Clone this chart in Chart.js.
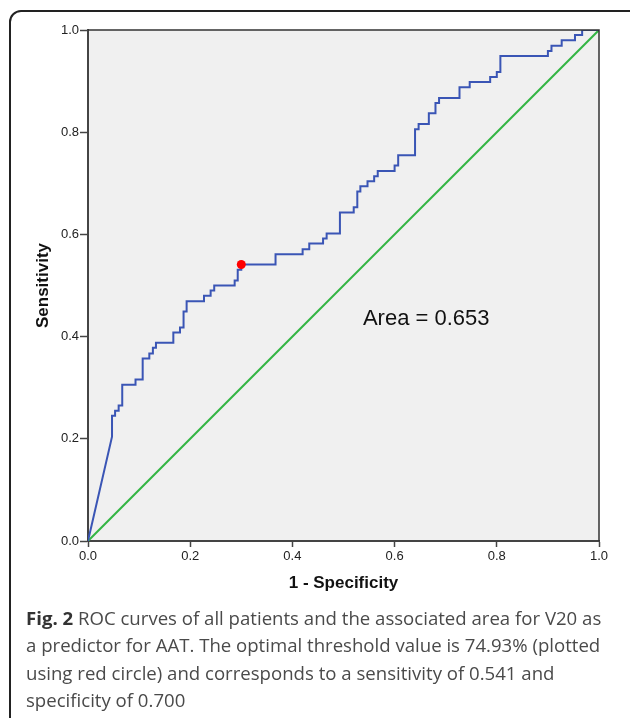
<!DOCTYPE html>
<html>
<head>
<meta charset="utf-8">
<script src="https://cdn.jsdelivr.net/npm/chart.js@4"></script>
<style>
  html, body { margin:0; padding:0; background:#fff; }
  body { width:630px; height:718px; position:relative; overflow:hidden; }
  #frame { position:absolute; left:9px; top:10px; width:660px; height:720px; border:2px solid #222; border-radius:12px; box-sizing:border-box; }
  #c { position:absolute; left:0; top:0; }
  #caption { position:absolute; left:26px; top:604px; width:600px; font-family:"Open Sans", sans-serif; font-size:18.6px; line-height:27.3px; color:#4a4a4a; white-space:nowrap; }
  #caption b { color:#333; font-weight:700; }
</style>
</head>
<body>
<div id="frame"></div>
<canvas id="c" width="630" height="718"></canvas>
<div id="caption"><b>Fig. 2</b> ROC curves of all patients and the associated area for V20 as<br>a predictor for AAT. The optimal threshold value is 74.93% (plotted<br>using red circle) and corresponds to a sensitivity of 0.541 and<br>specificity of 0.700</div>
<script>
// ROC curve vertices (1 - specificity, sensitivity)
const rocX = [0,0.047,0.047,0.053,0.053,0.060,0.060,0.067,0.067,0.093,0.093,0.107,0.107,0.120,0.120,0.127,0.127,0.133,0.133,0.167,0.167,0.180,0.180,0.187,0.187,0.193,0.193,0.227,0.227,0.240,0.240,0.247,0.247,0.287,0.287,0.293,0.293,0.300,0.300,0.367,0.367,0.420,0.420,0.433,0.433,0.460,0.460,0.467,0.467,0.493,0.493,0.520,0.520,0.527,0.527,0.533,0.533,0.547,0.547,0.560,0.560,0.567,0.567,0.600,0.600,0.607,0.607,0.640,0.640,0.647,0.647,0.667,0.667,0.680,0.680,0.687,0.687,0.727,0.727,0.747,0.747,0.787,0.787,0.800,0.800,0.807,0.807,0.900,0.900,0.907,0.907,0.927,0.927,0.953,0.953,0.967,0.967,1.000];
const rocY = [0,0.204,0.245,0.245,0.255,0.255,0.265,0.265,0.306,0.306,0.316,0.316,0.357,0.357,0.367,0.367,0.378,0.378,0.388,0.388,0.408,0.408,0.418,0.418,0.449,0.449,0.469,0.469,0.480,0.480,0.490,0.490,0.500,0.500,0.510,0.510,0.531,0.531,0.541,0.541,0.561,0.561,0.571,0.571,0.582,0.582,0.592,0.592,0.602,0.602,0.643,0.643,0.653,0.653,0.684,0.684,0.694,0.694,0.704,0.704,0.714,0.714,0.724,0.724,0.735,0.735,0.755,0.755,0.806,0.806,0.816,0.816,0.837,0.837,0.857,0.857,0.867,0.867,0.888,0.888,0.898,0.898,0.908,0.908,0.918,0.918,0.949,0.949,0.959,0.959,0.969,0.969,0.980,0.980,0.990,0.990,1.000,1.000];
// reference (chance) line
const refX = [0, 1];
const refY = [0, 1];
// optimal threshold point
const optX = [0.300];
const optY = [0.541];
// axis ticks
const tickValues = [0, 0.2, 0.4, 0.6, 0.8, 1.0];
const xTitle = '1 - Specificity';
const yTitle = 'Sensitivity';
const areaText = 'Area = 0.653';
const areaAt = [0.538, 0.434];

const pts = (xs, ys) => xs.map((x, i) => ({x: x, y: ys[i]}));

const plotDeco = {
  id: 'plotDeco',
  beforeDraw(chart) {
    const a = chart.chartArea, ctx = chart.ctx;
    ctx.save();
    ctx.fillStyle = '#f0f0f0';
    ctx.fillRect(a.left, a.top, a.right - a.left, a.bottom - a.top);
    ctx.restore();
  },
  afterDraw(chart) {
    const a = chart.chartArea, ctx = chart.ctx;
    ctx.save();
    ctx.strokeStyle = '#333';
    ctx.lineWidth = 1.5;
    ctx.beginPath();
    ctx.moveTo(a.left, a.top);
    ctx.lineTo(a.right, a.top);
    ctx.lineTo(a.right, a.bottom);
    ctx.stroke();
    const xs = chart.scales.x, ys = chart.scales.y;
    ctx.fillStyle = '#111';
    ctx.font = '22px "Liberation Sans", Arial, sans-serif';
    ctx.textAlign = 'left';
    ctx.textBaseline = 'middle';
    ctx.fillText(areaText, xs.getPixelForValue(areaAt[0]), ys.getPixelForValue(areaAt[1]));
    ctx.restore();
  }
};

const tickFont = {family: '"Liberation Sans", Arial, sans-serif', size: 13};
const titleFont = {family: '"Liberation Sans", Arial, sans-serif', size: 17, weight: 'bold'};

new Chart(document.getElementById('c'), {
  type: 'scatter',
  data: {
    datasets: [
      { data: pts(optX, optY), pointRadius: 4.5, pointBackgroundColor: '#ff0000', pointBorderWidth: 0, showLine: false, order: 0 },
      { data: pts(rocX, rocY), showLine: true, borderColor: '#3a55b5', borderWidth: 2, pointRadius: 0, fill: false, tension: 0, order: 1 },
      { data: pts(refX, refY), showLine: true, borderColor: '#33b544', borderWidth: 2, pointRadius: 0, fill: false, tension: 0, order: 2 }
    ]
  },
  options: {
    responsive: false,
    animation: false,
    devicePixelRatio: 1,
    layout: { padding: { left: 0, top: 30, right: 31, bottom: 117 } },
    plugins: { legend: { display: false }, tooltip: { enabled: false } },
    scales: {
      x: {
        type: 'linear', min: 0, max: 1,
        afterBuildTicks(s) { s.ticks = tickValues.map(v => ({value: v})); },
        afterFit(s) { s.height = 60; },
        ticks: { callback: v => Number(v).toFixed(1), color: '#222', font: tickFont, padding: 2, maxRotation: 0, autoSkip: false },
        grid: { drawOnChartArea: false, drawTicks: true, tickLength: 6, color: '#444', tickWidth: 1.5 },
        border: { color: '#444', width: 2 },
        title: { display: true, text: xTitle, color: '#111', font: titleFont, padding: { top: 0, bottom: 7 } }
      },
      y: {
        type: 'linear', min: 0, max: 1,
        afterBuildTicks(s) { s.ticks = tickValues.map(v => ({value: v})); },
        afterFit(s) { s.width = 88; },
        ticks: { callback: v => Number(v).toFixed(1), color: '#222', font: tickFont, padding: 1, autoSkip: false },
        grid: { drawOnChartArea: false, drawTicks: true, tickLength: 8, color: '#444', tickWidth: 1.5 },
        border: { color: '#444', width: 2 },
        title: { display: true, text: yTitle, color: '#111', font: titleFont, padding: { top: 33, bottom: 0 } }
      }
    }
  },
  plugins: [plotDeco]
});
</script>
</body>
</html>
